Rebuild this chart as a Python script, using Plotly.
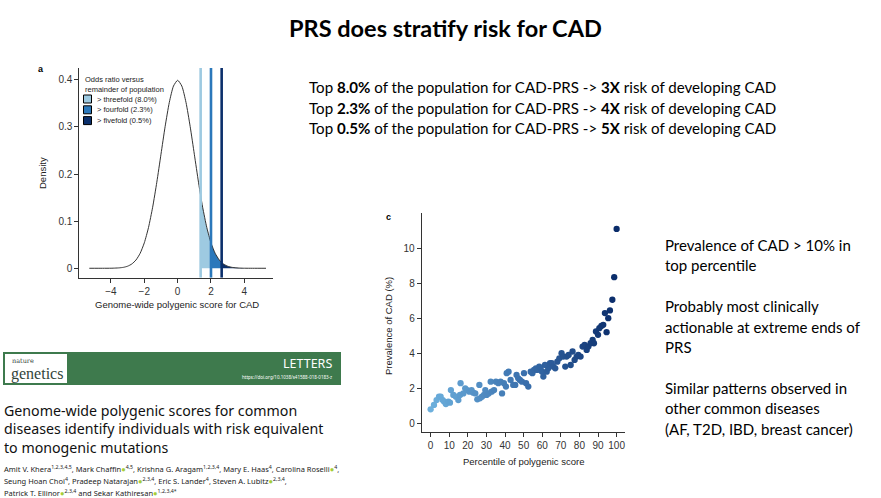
import plotly.graph_objects as go

W, H = 881, 498


def fx(p):
    return p / W


def fy(p):
    return 1 - p / H


# ---------------- Panel a: density of polygenic score ----------------
score_x = [-5.3, -4.5, -4.0, -3.75, -3.5, -3.25, -3.0, -2.75, -2.5, -2.25, -2.0, -1.75,
           -1.5, -1.25, -1.0, -0.75, -0.5, -0.25, 0.0, 0.25, 0.5, 0.75, 1.0, 1.25, 1.38,
           1.5, 1.75, 2.0, 2.25, 2.5, 2.64, 2.75, 3.0, 3.25, 3.5, 3.75, 4.0, 4.5, 5.3]
density_y = [0.0, 0.00002, 0.0001, 0.0004, 0.0009, 0.0020, 0.0044, 0.0091, 0.0175, 0.0317,
             0.0540, 0.0863, 0.1295, 0.1826, 0.2420, 0.3011, 0.3521, 0.3867, 0.3989, 0.3867,
             0.3521, 0.3011, 0.2420, 0.1826, 0.1539, 0.1295, 0.0863, 0.0540, 0.0317, 0.0175,
             0.0122, 0.0091, 0.0044, 0.0020, 0.0009, 0.0004, 0.0001, 0.00002, 0.0]
thresholds = [1.38, 2.0, 2.64]
band_colors = ['#9ecae1', '#2b78bb', '#0b2f6b']
band_labels = ['&gt; threefold (8.0%)', '&gt; fourfold (2.3%)', '&gt; fivefold (0.5%)']
density_ticks = [-4, -2, 0, 2, 4]
density_yticks = [0, 0.1, 0.2, 0.3, 0.4]
density_ytext = ['0', '0.1', '0.2', '0.3', '0.4']

# ---------------- Panel c: prevalence by percentile ----------------
pct = [0.0, 1.8, 3.2, 4.5, 5.4, 6.5, 7.2, 8.2, 9.5, 10.4, 10.9, 12.2, 13.6, 14.9, 15.8,
       16.1, 17.6, 18.6, 19.7, 20.8, 22.0, 22.9, 24.0, 25.1, 26.2, 26.5, 27.6, 28.7, 29.4,
       30.1, 31.2, 32.3, 32.8, 34.1, 35.1, 36.4, 37.6, 38.4, 39.4, 40.5, 40.9, 41.9, 43.0,
       44.4, 45.5, 46.2, 47.1, 48.0, 49.1, 50.2, 51.3, 52.5, 53.8, 54.7, 55.6, 56.6, 57.3,
       58.4, 59.1, 59.9, 60.6, 61.5, 62.4, 63.3, 64.2, 65.1, 66.0, 67.0, 68.1, 69.2, 70.4,
       71.3, 72.4, 73.1, 74.2, 75.3, 76.3, 77.4, 78.5, 79.4, 80.6, 81.7, 82.8, 83.9, 84.8,
       86.0, 87.1, 87.8, 88.9, 90.0, 90.7, 91.8, 92.8, 93.7, 94.6, 95.5, 96.4, 97.7, 98.7,
       100.0]
prev = [0.80, 1.05, 1.33, 1.52, 1.52, 1.33, 1.24, 1.10, 1.24, 1.18, 1.90, 1.62, 1.52, 1.33,
        1.62, 2.29, 1.71, 2.00, 1.90, 1.81, 1.90, 1.75, 1.71, 1.37, 2.19, 1.43, 1.52, 1.62,
        1.90, 1.62, 1.71, 2.38, 1.81, 1.90, 2.38, 2.29, 2.38, 1.71, 2.29, 2.10, 2.86, 2.95,
        2.48, 2.19, 2.19, 2.76, 2.57, 2.48, 2.38, 2.86, 2.29, 2.10, 2.95, 2.86, 3.05, 3.14,
        3.05, 3.24, 3.14, 2.95, 2.67, 3.33, 2.95, 3.14, 3.43, 3.43, 3.24, 3.14, 3.52, 3.71,
        4.00, 3.81, 3.24, 3.81, 3.90, 3.33, 4.10, 3.62, 3.81, 3.90, 3.81, 4.38, 4.48, 4.19,
        4.38, 4.57, 4.76, 4.57, 5.24, 5.05, 5.43, 5.56, 5.62, 6.29, 5.20, 6.00, 6.44, 7.05,
        8.34, 11.09]
pct_ticks = [0, 10, 20, 30, 40, 50, 60, 70, 80, 90, 100]
prev_ticks = [0, 2, 4, 6, 8, 10]

# ---------------- Slide text ----------------
slide_title = 'PRS does stratify risk for CAD'
risk_lines = [
    'Top <b>8.0%</b> of the population for CAD-PRS -&gt; <b>3X</b> risk of developing CAD',
    'Top <b>2.3%</b> of the population for CAD-PRS -&gt; <b>4X</b> risk of developing CAD',
    'Top <b>0.5%</b> of the population for CAD-PRS -&gt; <b>5X</b> risk of developing CAD',
]
notes_lines = [
    'Prevalence of CAD &gt; 10% in', 'top percentile', '',
    'Probably most clinically', 'actionable at extreme ends of', 'PRS', '',
    'Similar patterns observed in', 'other common diseases', '(AF, T2D, IBD, breast cancer)',
]
paper_title = ['Genome-wide polygenic scores for common',
               'diseases identify individuals with risk equivalent',
               'to monogenic mutations']
orc = '<span style="color:#a6ce39">●</span>'
author_lines = [
    'Amit V. Khera<sup>1,2,3,4,5</sup>, Mark Chaffin' + orc + '<sup>4,5</sup>, Krishna G. Aragam<sup>1,2,3,4</sup>, Mary E. Haas<sup>4</sup>, Carolina Roselli' + orc + '<sup>4</sup>,',
    'Seung Hoan Choi<sup>4</sup>, Pradeep Natarajan' + orc + '<sup>2,3,4</sup>, Eric S. Lander<sup>4</sup>, Steven A. Lubitz' + orc + '<sup>2,3,4</sup>,',
    'Patrick T. Ellinor' + orc + '<sup>2,3,4</sup> and Sekar Kathiresan' + orc + '<sup>1,2,3,4*</sup>',
]

fig = go.Figure()

# Bands under the curve
bounds = thresholds + [max(score_x)]
for i in range(3):
    lo, hi = bounds[i], bounds[i + 1]
    bx = [x for x in score_x if lo <= x <= hi]
    by = [y for x, y in zip(score_x, density_y) if lo <= x <= hi]
    fig.add_trace(go.Scatter(x=bx, y=by, mode='lines', fill='tozeroy',
                             fillcolor=band_colors[i], line=dict(width=0, shape='spline', smoothing=0.6),
                             hoverinfo='skip', showlegend=False, xaxis='x', yaxis='y'))

fig.add_trace(go.Scatter(x=score_x, y=density_y, mode='lines',
                         line=dict(color='#333333', width=1, shape='spline', smoothing=0.6),
                         showlegend=False, xaxis='x', yaxis='y'))

for t, c in zip(thresholds, band_colors):
    fig.add_trace(go.Scatter(x=[t, t], y=[-0.02, 0.425], mode='lines',
                             line=dict(color=c, width=2.6), showlegend=False,
                             xaxis='x', yaxis='y'))

# Scatter panel
fig.add_trace(go.Scatter(x=pct, y=prev, mode='markers',
                         marker=dict(size=6.3, color=pct, cmin=0, cmax=100,
                                     colorscale=[[0, '#6db0dd'], [0.5, '#3a70ad'], [1, '#0a2c6a']]),
                         showlegend=False, xaxis='x2', yaxis='y2'))

axis_common = dict(showline=True, linecolor='#333333', linewidth=1, ticks='outside',
                   ticklen=4, tickcolor='#333333', tickwidth=1, showgrid=False,
                   zeroline=False, tickfont=dict(family='Liberation Sans', size=10, color='#333333'))

fig.update_layout(
    width=W, height=H, margin=dict(l=0, r=0, t=0, b=0),
    paper_bgcolor='white', plot_bgcolor='white', showlegend=False,
    xaxis=dict(domain=[fx(79.3), fx(273)], range=[-5.9, 5.72], tickvals=density_ticks,
               anchor='y', **axis_common),
    yaxis=dict(domain=[fy(277.7), fy(68)], range=[-0.02, 0.425], tickvals=density_yticks,
               ticktext=density_ytext, anchor='x', **axis_common),
    xaxis2=dict(domain=[fx(421.7), fx(625)], range=[-4.8, 104.5], tickvals=pct_ticks,
                anchor='y2', **axis_common),
    yaxis2=dict(domain=[fy(432.3), fy(213)], range=[-0.51, 12.0], tickvals=prev_ticks,
                anchor='x2', **axis_common),
)

ann = []
shapes = []
SANS = 'Liberation Sans'
CAL = 'Lato'

# Slide title
ann.append(dict(text='<b>' + slide_title + '</b>', x=fx(445), y=fy(28), xanchor='center', yanchor='middle',
                font=dict(family=CAL, size=23.5, color='black')))
for i, line in enumerate(risk_lines):
    ann.append(dict(text=line, x=fx(307), y=fy(87 + 20.5 * i), xanchor='left', yanchor='middle',
                    font=dict(family=CAL, size=15.1, color='black')))
note_y = 245
for line in notes_lines:
    if line:
        ann.append(dict(text=line, x=fx(663), y=fy(note_y), xanchor='left', yanchor='middle',
                        font=dict(family=CAL, size=15, color='black')))
    note_y += 20.4

# Panel labels and axis titles
ann.append(dict(text='<b>a</b>', x=fx(41), y=fy(69), xanchor='center', yanchor='middle',
                font=dict(family=SANS, size=9, color='black')))
ann.append(dict(text='<b>c</b>', x=fx(388), y=fy(217), xanchor='center', yanchor='middle',
                font=dict(family=SANS, size=9, color='black')))
ann.append(dict(text='Density', x=fx(42), y=fy(173), xanchor='center', yanchor='middle', textangle=-90,
                font=dict(family=SANS, size=9.5, color='#222222')))
ann.append(dict(text='Genome-wide polygenic score for CAD', x=fx(177), y=fy(304), xanchor='center',
                yanchor='middle', font=dict(family=SANS, size=9.5, color='#222222')))
ann.append(dict(text='Prevalence of CAD (%)', x=fx(388), y=fy(326), xanchor='center', yanchor='middle',
                textangle=-90, font=dict(family=SANS, size=9.5, color='#222222')))
ann.append(dict(text='Percentile of polygenic score', x=fx(523), y=fy(461), xanchor='center',
                yanchor='middle', font=dict(family=SANS, size=9.5, color='#222222')))

# Legend of panel a
ann.append(dict(text='Odds ratio versus<br>remainder of population', x=fx(83), y=fy(73), xanchor='left',
                yanchor='top', align='left', font=dict(family=SANS, size=7.5, color='#222222')))
for i, (lab, c) in enumerate(zip(band_labels, band_colors)):
    cy = 99 + 10.8 * i
    shapes.append(dict(type='rect', xref='paper', yref='paper', x0=fx(83.5), x1=fx(91.5),
                       y0=fy(cy + 4), y1=fy(cy - 4), fillcolor=c, line=dict(color='black', width=1)))
    ann.append(dict(text=lab, x=fx(95), y=fy(cy), xanchor='left', yanchor='middle',
                    font=dict(family=SANS, size=7.5, color='#222222')))

# Nature Genetics banner
shapes.append(dict(type='rect', xref='paper', yref='paper', x0=fx(3), x1=fx(341), y0=fy(385), y1=fy(352),
                   fillcolor='#3e7a4d', line=dict(width=0), layer='below'))
shapes.append(dict(type='rect', xref='paper', yref='paper', x0=fx(5), x1=fx(67), y0=fy(383), y1=fy(354),
                   fillcolor='white', line=dict(width=0), layer='below'))
ann.append(dict(text='nature', x=fx(10), y=fy(360.5), xanchor='left', yanchor='middle',
                font=dict(family='DejaVu Serif', size=6.5, color='#33443a')))
ann.append(dict(text='genetics', x=fx(9), y=fy(374), xanchor='left', yanchor='middle',
                font=dict(family='Liberation Serif', size=16, color='#33443a')))
ann.append(dict(text='LETTERS', x=fx(334), y=fy(363), xanchor='right', yanchor='middle',
                font=dict(family='Noto Sans', size=12.5, color='white')))
ann.append(dict(text='https://doi.org/10.1038/s41588-018-0183-z', x=fx(334), y=fy(377), xanchor='right',
                yanchor='middle', font=dict(family='Noto Sans', size=4.5, color='white')))
for i, line in enumerate(paper_title):
    ann.append(dict(text=line, x=fx(2), y=fy(410 + 18.7 * i), xanchor='left', yanchor='middle',
                    font=dict(family='Noto Sans', size=14.2, color='#111111')))
for i, line in enumerate(author_lines):
    ann.append(dict(text=line, x=fx(2), y=fy(468 + 12 * i), xanchor='left', yanchor='middle',
                    font=dict(family='Noto Sans', size=7.5, color='#222222')))

fig.update_layout(annotations=[dict(a, xref='paper', yref='paper', showarrow=False) for a in ann],
                  shapes=shapes)

fig.write_html('out.html')
